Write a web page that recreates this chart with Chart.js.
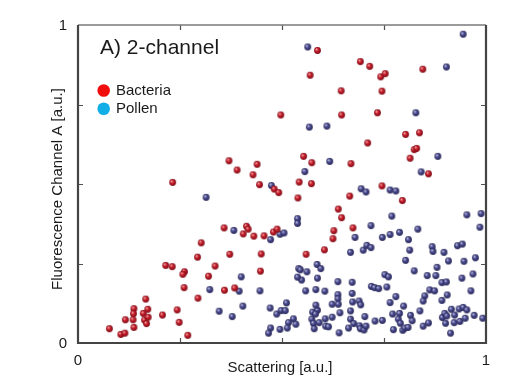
<!DOCTYPE html>
<html>
<head>
<meta charset="utf-8">
<script src="https://cdn.jsdelivr.net/npm/chart.js@4/dist/chart.umd.min.js"></script>
<style>
  html, body { margin: 0; padding: 0; background: #fff; }
</style>
</head>
<body>
<canvas id="Chart" width="520" height="391"></canvas>
<script>
// values (scattering, fluorescence), both 0..1
const bacteriaX = [0.370,0.390,0.439,0.429,0.232,0.445,0.587,0.569,0.692,0.715,0.742,0.753,0.845,0.645,0.745,0.497,0.646,0.734,0.803,0.837,0.710,0.824,0.830,0.814,0.553,0.573,0.669,0.859,0.481,0.492,0.542,0.572,0.745,0.539,0.666,0.795,0.358,0.413,0.417,0.405,0.431,0.302,0.372,0.293,0.215,0.231,0.336,0.261,0.257,0.320,0.447,0.260,0.359,0.384,0.294,0.166,0.137,0.171,0.136,0.160,0.116,0.135,0.163,0.172,0.168,0.207,0.243,0.248,0.077,0.105,0.115,0.137,0.269,0.638,0.646,0.456,0.479,0.488,0.449,0.627,0.625,0.674,0.559,0.604];
const bacteriaY = [0.573,0.544,0.562,0.529,0.505,0.498,0.920,0.842,0.885,0.870,0.837,0.847,0.861,0.793,0.792,0.717,0.717,0.724,0.656,0.661,0.629,0.608,0.612,0.581,0.587,0.567,0.564,0.532,0.484,0.473,0.506,0.501,0.494,0.456,0.462,0.448,0.362,0.367,0.358,0.343,0.336,0.315,0.279,0.270,0.244,0.240,0.242,0.224,0.216,0.210,0.226,0.174,0.166,0.173,0.141,0.138,0.108,0.106,0.092,0.093,0.073,0.073,0.072,0.081,0.061,0.088,0.104,0.065,0.045,0.027,0.031,0.049,0.024,0.421,0.394,0.337,0.349,0.358,0.280,0.353,0.328,0.362,0.279,0.293];

const pollenX = [0.314,0.563,0.903,0.944,0.828,0.567,0.610,0.882,0.617,0.556,0.841,0.474,0.694,0.706,0.765,0.779,0.382,0.400,0.323,0.395,0.446,0.404,0.346,0.378,
  0.538,0.538,0.769,0.953,0.988,0.985,0.495,0.505,0.472,0.679,0.718,0.668,0.699,0.708,0.718,0.746,0.765,0.788,0.833,0.810,0.813,0.803,0.824,0.868,0.870,0.897,0.930,0.942,0.908,0.946,0.974,0.880,0.856,0.877,0.892,0.903,0.941,0.968,0.963,0.862,0.874,0.850,0.846,0.892,0.905,
  0.541,0.545,0.548,0.538,0.561,0.586,0.595,0.587,0.558,0.583,0.605,0.637,0.672,0.672,0.637,0.637,0.623,0.638,0.673,0.689,0.693,0.719,0.727,0.737,0.752,0.761,0.757,0.779,0.765,0.798,
  0.471,0.487,0.498,0.508,0.511,0.528,0.534,0.516,0.513,0.495,0.472,0.467,
  0.573,0.575,0.587,0.582,0.577,0.579,0.591,0.606,0.607,0.614,0.623,0.642,0.640,0.663,0.668,0.676,0.690,0.692,0.701,0.706,0.703,0.728,0.746,0.771,0.788,0.785,0.790,0.773,0.796,0.801,0.809,0.815,0.819,0.838,0.846,0.859,0.893,0.899,0.904,0.901,0.913,0.915,0.923,0.922,0.936,0.934,0.944,0.949,0.953,0.971,0.992,
  0.583,0.668];
const pollenY = [0.458,0.931,0.868,0.971,0.724,0.679,0.682,0.587,0.571,0.539,0.538,0.495,0.485,0.475,0.481,0.478,0.354,0.208,0.168,0.163,0.164,0.116,0.100,0.083,
  0.391,0.376,0.399,0.403,0.407,0.364,0.342,0.346,0.325,0.332,0.369,0.285,0.292,0.307,0.300,0.332,0.341,0.348,0.358,0.325,0.292,0.260,0.227,0.303,0.288,0.285,0.306,0.311,0.258,0.257,0.268,0.238,0.212,0.212,0.190,0.192,0.204,0.217,0.164,0.167,0.164,0.148,0.132,0.134,0.151,
  0.234,0.230,0.198,0.207,0.224,0.247,0.234,0.204,0.164,0.168,0.163,0.193,0.191,0.156,0.152,0.139,0.122,0.122,0.129,0.132,0.120,0.178,0.174,0.171,0.215,0.208,0.176,0.146,0.127,0.116,
  0.110,0.091,0.102,0.102,0.126,0.076,0.059,0.064,0.047,0.043,0.047,0.031,
  0.075,0.097,0.103,0.091,0.062,0.045,0.064,0.076,0.053,0.051,0.081,0.095,0.032,0.047,0.075,0.061,0.054,0.045,0.041,0.053,0.083,0.069,0.071,0.091,0.093,0.075,0.062,0.042,0.040,0.047,0.049,0.087,0.070,0.101,0.053,0.063,0.080,0.093,0.085,0.062,0.031,0.106,0.088,0.064,0.068,0.107,0.112,0.078,0.104,0.087,0.078,
  0.119,0.101];

const tickValues = [0, 0.25, 0.5, 0.75, 1];
const xTickLabels = [[0, "0"], [1, "1"]];
const yTickLabels = [[0, "0"], [1, "1"]];
const seriesNames = ["Bacteria", "Pollen"];
const legendColors = ["#f20d0d", "#12aee8"];

const FONT = "'Liberation Sans', Arial, sans-serif";

// small shaded ball used as point image
function ball(light, base, dark, r) {
  const s = Math.ceil(r * 2) + 2;
  const c = document.createElement("canvas");
  c.width = s; c.height = s;
  const g = c.getContext("2d");
  const m = s / 2;
  const grad = g.createRadialGradient(m - r * 0.35, m - r * 0.4, r * 0.1, m, m, r);
  grad.addColorStop(0, light);
  grad.addColorStop(0.45, base);
  grad.addColorStop(1, dark);
  g.fillStyle = grad;
  g.beginPath();
  g.arc(m, m, r, 0, Math.PI * 2);
  g.fill();
  return c;
}
const redBall = ball("#f29a9a", "#c41d2b", "#7c0c16", 3.4);
const blueBall = ball("#b4b4dc", "#4a4a8e", "#262656", 3.4);

const framePlugin = {
  id: "frame",
  beforeDatasetsDraw(chart) {
    const ctx = chart.ctx;
    const xs = chart.scales.x, ys = chart.scales.y;
    const l = xs.getPixelForValue(0), r = xs.getPixelForValue(1);
    const t = ys.getPixelForValue(1), b = ys.getPixelForValue(0);
    ctx.save();
    ctx.strokeStyle = "#505050";
    ctx.lineWidth = 1.2;
    // inward ticks
    ctx.beginPath();
    tickValues.slice(1, -1).forEach(v => {
      const px = Math.round(xs.getPixelForValue(v)) + 0.5;
      ctx.moveTo(px, b); ctx.lineTo(px, b - 5);
      ctx.moveTo(px, t); ctx.lineTo(px, t + 5);
      const py = Math.round(ys.getPixelForValue(v)) + 0.5;
      ctx.moveTo(l, py); ctx.lineTo(l + 5, py);
      ctx.moveTo(r, py); ctx.lineTo(r - 5, py);
    });
    ctx.stroke();
    // box
    ctx.strokeStyle = "#7a7a7a";
    ctx.lineWidth = 1.5;
    ctx.beginPath(); ctx.moveTo(l, t); ctx.lineTo(r, t); ctx.stroke();
    ctx.strokeStyle = "#444";
    ctx.lineWidth = 2.2;
    ctx.beginPath();
    ctx.moveTo(l, t); ctx.lineTo(l, b); ctx.lineTo(r, b); ctx.lineTo(r, t);
    ctx.stroke();
    ctx.restore();
  },
  afterDraw(chart) {
    const ctx = chart.ctx;
    const xs = chart.scales.x, ys = chart.scales.y;
    ctx.save();
    ctx.fillStyle = "#1a1a1a";
    ctx.font = "15px " + FONT;
    ctx.textAlign = "center";
    ctx.textBaseline = "alphabetic";
    xTickLabels.forEach(([v, s]) => ctx.fillText(s, xs.getPixelForValue(v), 365));
    ctx.textAlign = "right";
    ctx.textBaseline = "middle";
    yTickLabels.forEach(([v, s]) => ctx.fillText(s, 67, ys.getPixelForValue(v) + 1));
    // axis titles
    ctx.textAlign = "center";
    ctx.textBaseline = "alphabetic";
    ctx.fillText("Scattering [a.u.]", 280, 372);
    ctx.save();
    ctx.translate(62, 189);
    ctx.rotate(-Math.PI / 2);
    ctx.fillText("Fluorescence Channel A [a.u.]", 0, 0);
    ctx.restore();
    // panel label
    ctx.textAlign = "left";
    ctx.font = "21px " + FONT;
    ctx.fillText("A) 2-channel", 100, 54);
    // legend
    ctx.font = "15px " + FONT;
    seriesNames.forEach((name, i) => {
      const y = 90.5 + i * 18.3;
      ctx.fillStyle = legendColors[i];
      ctx.beginPath();
      ctx.arc(103.7, y, 6.3, 0, Math.PI * 2);
      ctx.fill();
      ctx.fillStyle = "#1a1a1a";
      ctx.textBaseline = "middle";
      ctx.fillText(name, 116, y + 0.5);
    });
    ctx.restore();
  }
};

const ctx = document.getElementById("Chart").getContext("2d");
const myChart = new Chart(ctx, {
  type: "scatter",
  data: {
    datasets: [
      {
        label: seriesNames[0],
        data: bacteriaX.map((x, i) => ({ x: x, y: bacteriaY[i] })),
        pointStyle: redBall,
        pointRadius: 3.4,
      },
      {
        label: seriesNames[1],
        data: pollenX.map((x, i) => ({ x: x, y: pollenY[i] })),
        pointStyle: blueBall,
        pointRadius: 3.4,
      },
    ],
  },
  options: {
    responsive: false,
    animation: false,
    events: [],
    layout: { padding: { left: 78, top: 25, right: 34, bottom: 48 } },
    scales: {
      x: { type: "linear", min: 0, max: 1, display: false },
      y: { type: "linear", min: 0, max: 1, display: false },
    },
    plugins: {
      legend: { display: false },
      tooltip: { enabled: false },
    },
  },
  plugins: [framePlugin],
});
</script>
</body>
</html>
